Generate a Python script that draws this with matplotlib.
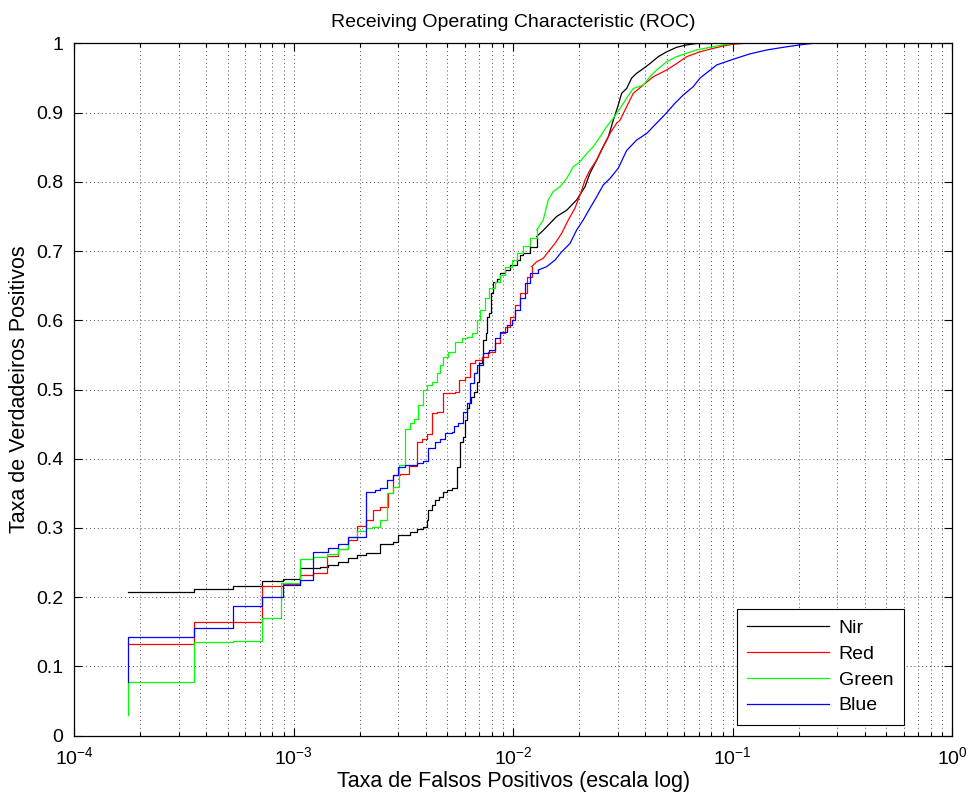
import numpy as np
import matplotlib
matplotlib.use("Agg")
import matplotlib.pyplot as plt
from matplotlib.ticker import LogLocator

plt.rcParams['font.family'] = ['Liberation Sans', 'DejaVu Sans']
plt.rcParams['mathtext.default'] = 'regular'
plt.rcParams['axes.unicode_minus'] = False

# ROC points per band: false positive rate / true positive rate (stairs)
nir_fpr = [1.76e-4, 3.52e-4, 5.30e-4, 7.14e-4, 8.96e-4, 1.067e-3, 1.317e-3, 1.436e-3,
           1.595e-3, 1.771e-3, 1.947e-3, 2.133e-3, 2.47e-3, 2.822e-3, 2.993e-3, 3.383e-3,
           3.63e-3, 3.89e-3, 4.03e-3, 4.10e-3, 4.25e-3, 4.40e-3, 4.60e-3, 4.80e-3,
           4.975e-3, 5.24e-3, 5.52e-3, 5.72e-3, 5.92e-3, 6.03e-3, 6.17e-3, 6.30e-3,
           6.40e-3, 6.62e-3, 6.81e-3, 7.0e-3, 7.18e-3, 7.30e-3, 7.51e-3, 7.61e-3,
           7.77e-3, 7.89e-3, 8.11e-3, 8.40e-3, 8.70e-3, 9.17e-3, 9.66e-3, 1.036e-2,
           1.073e-2, 1.111e-2, 1.191e-2, 1.278e-2, 1.370e-2, 1.469e-2, 1.576e-2, 1.751e-2,
           1.945e-2, 2.122e-2, 2.236e-2, 2.40e-2, 2.57e-2, 2.71e-2, 2.855e-2, 3.008e-2,
           3.117e-2, 3.285e-2, 3.462e-2, 3.649e-2, 3.846e-2, 4.197e-2, 4.58e-2, 5.0e-2,
           5.55e-2, 6.17e-2, 6.85e-2, 8.02e-2]
nir_tpr = [0.208, 0.211, 0.216, 0.224, 0.226, 0.2425, 0.244, 0.246,
           0.251, 0.256, 0.261, 0.264, 0.277, 0.280, 0.290, 0.2945,
           0.298, 0.302, 0.311, 0.326, 0.333, 0.340, 0.345, 0.352,
           0.355, 0.357, 0.3885, 0.4245, 0.432, 0.456, 0.473, 0.480,
           0.4896, 0.497, 0.511, 0.538, 0.547, 0.5715, 0.581, 0.605,
           0.610, 0.639, 0.656, 0.660, 0.668, 0.673, 0.680, 0.687,
           0.694, 0.697, 0.706, 0.721, 0.730, 0.740, 0.750, 0.759,
           0.774, 0.793, 0.8125, 0.8317, 0.851, 0.865, 0.889, 0.911,
           0.928, 0.935, 0.950, 0.957, 0.962, 0.971, 0.981, 0.988,
           0.9945, 0.998, 1.0, 1.0]

red_fpr = [1.76e-4, 3.52e-4, 7.14e-4, 8.96e-4, 1.067e-3, 1.227e-3, 1.421e-3, 1.595e-3,
           1.771e-3, 1.947e-3, 2.133e-3, 2.30e-3, 2.47e-3, 2.695e-3, 2.84e-3, 3.047e-3,
           3.36e-3, 3.652e-3, 3.825e-3, 4.03e-3, 4.25e-3, 4.477e-3, 4.80e-3, 5.425e-3,
           5.675e-3, 6.03e-3, 6.35e-3, 6.69e-3, 7.18e-3, 7.69e-3, 8.25e-3, 8.70e-3,
           9.17e-3, 9.66e-3, 1.018e-2, 1.073e-2, 1.151e-2, 1.213e-2, 1.278e-2, 1.370e-2,
           1.443e-2, 1.549e-2, 1.662e-2, 1.781e-2, 1.910e-2, 2.028e-2, 2.122e-2, 2.236e-2,
           2.40e-2, 2.57e-2, 2.758e-2, 2.96e-2, 3.063e-2, 3.285e-2, 3.521e-2, 3.911e-2,
           4.343e-2, 5.0e-2, 5.55e-2, 6.17e-2, 7.09e-2, 8.15e-2, 9.05e-2, 1.005e-1,
           1.116e-1]
red_tpr = [0.132, 0.1645, 0.216, 0.219, 0.2315, 0.2344, 0.2594, 0.269,
           0.2825, 0.3027, 0.3114, 0.326, 0.3306, 0.350, 0.3764, 0.378,
           0.389, 0.4246, 0.428, 0.436, 0.4656, 0.468, 0.4945, 0.497,
           0.5137, 0.5185, 0.538, 0.5426, 0.547, 0.5546, 0.5667, 0.581,
           0.5908, 0.605, 0.622, 0.639, 0.663, 0.6775, 0.6847, 0.6896,
           0.699, 0.711, 0.7257, 0.745, 0.762, 0.7835, 0.8027, 0.817,
           0.8317, 0.851, 0.870, 0.885, 0.889, 0.9087, 0.928, 0.940,
           0.952, 0.9617, 0.971, 0.981, 0.988, 0.993, 0.9964, 0.999,
           1.0]

green_fpr = [1.76e-4, 1.76e-4, 3.52e-4, 5.30e-4, 7.14e-4, 8.72e-4, 1.067e-3, 1.227e-3,
             1.412e-3, 1.595e-3, 1.771e-3, 1.947e-3, 2.133e-3, 2.264e-3, 2.47e-3, 2.65e-3,
             2.84e-3, 3.025e-3, 3.211e-3, 3.383e-3, 3.54e-3, 3.692e-3, 3.89e-3, 4.03e-3,
             4.25e-3, 4.477e-3, 4.634e-3, 4.80e-3, 5.058e-3, 5.425e-3, 5.82e-3, 6.135e-3,
             6.465e-3, 6.855e-3, 7.05e-3, 7.43e-3, 7.77e-3, 8.25e-3, 8.70e-3, 9.17e-3,
             9.83e-3, 1.036e-2, 1.111e-2, 1.191e-2, 1.278e-2, 1.370e-2, 1.443e-2, 1.521e-2,
             1.633e-2, 1.751e-2, 1.877e-2, 2.013e-2, 2.16e-2, 2.315e-2, 2.483e-2, 2.665e-2,
             2.855e-2, 3.063e-2, 3.285e-2, 3.521e-2, 3.911e-2, 4.197e-2, 4.50e-2, 5.0e-2,
             5.55e-2, 6.17e-2, 6.85e-2, 7.87e-2, 9.05e-2, 1.005e-1]
green_tpr = [0.030, 0.078, 0.1356, 0.137, 0.170, 0.220, 0.2546, 0.2575,
             0.262, 0.270, 0.287, 0.296, 0.2994, 0.302, 0.3114, 0.351,
             0.3595, 0.391, 0.4425, 0.451, 0.457, 0.4776, 0.4993, 0.5065,
             0.5113, 0.5234, 0.5354, 0.5474, 0.5546, 0.569, 0.574, 0.5763,
             0.581, 0.6004, 0.615, 0.6318, 0.6462, 0.656, 0.6655, 0.6775,
             0.687, 0.697, 0.7074, 0.7185, 0.7305, 0.745, 0.774, 0.786,
             0.793, 0.805, 0.822, 0.829, 0.841, 0.851, 0.865, 0.880,
             0.892, 0.906, 0.921, 0.935, 0.940, 0.952, 0.9617, 0.9737,
             0.981, 0.986, 0.9906, 0.9945, 0.998, 1.0]

blue_fpr = [1.76e-4, 1.76e-4, 3.52e-4, 5.30e-4, 7.14e-4, 8.96e-4, 1.067e-3, 1.227e-3,
            1.436e-3, 1.595e-3, 1.771e-3, 2.133e-3, 2.344e-3, 2.47e-3, 2.65e-3, 2.84e-3,
            2.993e-3, 3.211e-3, 3.63e-3, 3.89e-3, 4.10e-3, 4.40e-3, 4.634e-3, 4.885e-3,
            5.24e-3, 5.37e-3, 5.615e-3, 5.92e-3, 6.17e-3, 6.35e-3, 6.62e-3, 6.855e-3,
            7.30e-3, 7.77e-3, 8.25e-3, 8.70e-3, 9.33e-3, 9.83e-3, 1.018e-2, 1.073e-2,
            1.131e-2, 1.191e-2, 1.300e-2, 1.420e-2, 1.549e-2, 1.662e-2, 1.813e-2, 1.945e-2,
            2.084e-2, 2.236e-2, 2.40e-2, 2.57e-2, 2.758e-2, 3.008e-2, 3.285e-2, 3.649e-2,
            4.053e-2, 4.50e-2, 5.0e-2, 5.45e-2, 5.95e-2, 6.607e-2, 7.09e-2, 8.45e-2,
            9.99e-2, 1.197e-1, 1.427e-1, 1.699e-1, 2.024e-1, 2.288e-1]
blue_tpr = [0.078, 0.1428, 0.155, 0.187, 0.2006, 0.2175, 0.2247, 0.2656,
            0.2705, 0.2767, 0.2864, 0.352, 0.3548, 0.357, 0.369, 0.3764,
            0.3884, 0.391, 0.394, 0.397, 0.415, 0.4246, 0.428, 0.4367,
            0.439, 0.4473, 0.452, 0.468, 0.480, 0.509, 0.5234, 0.5354,
            0.5523, 0.557, 0.574, 0.5835, 0.5932, 0.6004, 0.615, 0.6318,
            0.6535, 0.668, 0.6727, 0.6775, 0.687, 0.699, 0.711, 0.7305,
            0.745, 0.762, 0.7786, 0.7955, 0.805, 0.8197, 0.8454, 0.8605,
            0.870, 0.885, 0.900, 0.9136, 0.9256, 0.9376, 0.950, 0.969,
            0.977, 0.985, 0.9906, 0.9945, 0.998, 1.0]

series = [
    ("Nir", nir_fpr, nir_tpr, "#000000"),
    ("Red", red_fpr, red_tpr, "#ff0000"),
    ("Green", green_fpr, green_tpr, "#00ff00"),
    ("Blue", blue_fpr, blue_tpr, "#0000ff"),
]

# above this rate the steps get tiny, so the curve is drawn as a plain line
STEP_LIMIT = 1.2e-2

fig = plt.figure(figsize=(9.72, 7.98), dpi=100)
ax = fig.add_axes([0.0764, 0.0783, 0.9033, 0.8672])

for name, fpr, tpr, col in series:
    fpr = np.array(fpr)
    tpr = np.array(tpr)
    n = np.searchsorted(fpr, STEP_LIMIT)
    ax.plot(fpr[:n + 1], tpr[:n + 1], drawstyle="steps-post", color=col, lw=0.9, label=name)
    ax.plot(fpr[n:], tpr[n:], color=col, lw=0.9)

ax.set_xscale("log")
ax.set_xlim(1e-4, 1)
ax.set_ylim(0, 1)
ax.set_yticks(np.arange(0, 1.01, 0.1))
ax.set_yticklabels(["0", "0.1", "0.2", "0.3", "0.4", "0.5", "0.6", "0.7", "0.8", "0.9", "1"])
ax.xaxis.set_major_locator(LogLocator(base=10, numticks=10))
ax.xaxis.set_minor_locator(LogLocator(base=10, subs=np.arange(2, 10), numticks=20))

grid_kw = dict(color="#505050", linestyle=(0, (1, 3)), linewidth=0.7)
ax.grid(True, which="major", axis="both", **grid_kw)
ax.grid(True, which="minor", axis="x", **grid_kw)

ax.tick_params(which="both", direction="in", top=True, right=True, labelsize=14, width=0.8)
ax.tick_params(which="major", length=6, pad=8)
ax.tick_params(which="minor", length=3)
for s in ax.spines.values():
    s.set_linewidth(0.9)

ax.set_title("Receiving Operating Characteristic (ROC)", fontsize=14, pad=12)
ax.set_xlabel("Taxa de Falsos Positivos (escala log)", fontsize=15.5, labelpad=2)
ax.set_ylabel("Taxa de Verdadeiros Positivos", fontsize=15.5, labelpad=4)

leg = ax.legend(loc="lower right", bbox_to_anchor=(0.945, 0.015), borderaxespad=0,
                fontsize=14, fancybox=False, edgecolor="black", framealpha=1,
                handlelength=4.2, labelspacing=0.42, borderpad=0.55, handletextpad=0.5)
leg.get_frame().set_linewidth(0.8)

fig.savefig("out.png", dpi=100)
